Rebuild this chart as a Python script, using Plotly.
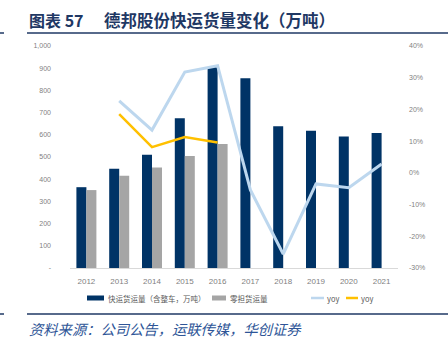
import plotly.graph_objects as go

years = ["2012", "2013", "2014", "2015", "2016", "2017", "2018", "2019", "2020", "2021"]
express_vol = [364, 447, 510, 675, 905, 855, 638, 618, 592, 608]
ltl_vol = [351, 416, 453, 505, 558, None, None, None, None, None]
yoy_express = [None, 22.7, 13.5, 31.8, 33.8, -5.4, -25.6, -3.5, -4.7, 2.8]
yoy_ltl = [None, 18.5, 8.1, 11.3, 9.6, None, None, None, None, None]

left_ticks = [0, 100, 200, 300, 400, 500, 600, 700, 800, 900, 1000]
left_labels = ["-", "100", "200", "300", "400", "500", "600", "700", "800", "900", "1,000"]
right_ticks = [-30, -20, -10, 0, 10, 20, 30, 40]
right_labels = ["-30%", "-20%", "-10%", "0%", "10%", "20%", "30%", "40%"]

legend_names = ["快运货运量（含整车，万吨）", "零担货运量", "yoy", "yoy"]

NAVY = "#003366"
GREY = "#A5A5A5"
LBLUE = "#BDD7EE"
YEL = "#FFC000"
TXT = "#7F7F7F"
TITLE = "#1F3864"

fig = go.Figure()
fig.add_bar(x=years, y=express_vol, name=legend_names[0], marker_color=NAVY, marker_line_width=0)
fig.add_bar(x=years, y=ltl_vol, name=legend_names[1], marker_color=GREY, marker_line_width=0)
fig.add_scatter(x=years, y=yoy_express, name=legend_names[2], yaxis="y2", mode="lines",
                line=dict(color=LBLUE, width=3))
fig.add_scatter(x=years, y=yoy_ltl, name=legend_names[3], yaxis="y2", mode="lines",
                line=dict(color=YEL, width=2.5))

L, R, T, B = 70, 50, 46, 82
W, H = 448, 350
pw = W - L - R
ph = H - T - B

def px(x):
    return (x - L) / pw

def py(y):
    return (H - B - y) / ph

fig.update_layout(
    width=W, height=H,
    margin=dict(l=L, r=R, t=T, b=B),
    paper_bgcolor="white", plot_bgcolor="white",
    barmode="group", bargap=0.39, bargroupgap=0,
    font=dict(family="Liberation Sans, Arial", size=8, color=TXT),
    xaxis=dict(showgrid=False, showline=True, linecolor="#D9D9D9", linewidth=1,
               ticks="", tickfont=dict(size=8, color=TXT), ticklabelstandoff=5),
    yaxis=dict(range=[0, 1000], tickvals=left_ticks, ticktext=left_labels,
               showgrid=False, zeroline=False, showline=False,
               tickfont=dict(size=7, color=TXT), ticklabelstandoff=18),
    yaxis2=dict(range=[-30, 40], tickvals=right_ticks, ticktext=right_labels,
                overlaying="y", side="right", showgrid=False, zeroline=False,
                showline=False, tickfont=dict(size=7, color=TXT), ticklabelstandoff=10),
    showlegend=False,
)

shapes = []
for y0 in (33, 314):
    shapes.append(dict(type="line", xref="paper", yref="paper",
                       x0=px(27), x1=px(448), y0=py(y0), y1=py(y0),
                       line=dict(color=TITLE, width=1.5)))
    shapes.append(dict(type="line", xref="paper", yref="paper",
                       x0=px(0), x1=px(4), y0=py(y0), y1=py(y0),
                       line=dict(color=TITLE, width=1.5)))

# manual legend
LY = 298
legend_items = [
    ("rect", NAVY, 87, 104, 106),
    ("rect", GREY, 212, 226, 228),
    ("line", LBLUE, 311, 324, 325),
    ("line", YEL, 346, 358, 359),
]
for (kind, col, x0, x1, tx), name in zip(legend_items, legend_names):
    if kind == "rect":
        shapes.append(dict(type="rect", xref="paper", yref="paper",
                           x0=px(x0), x1=px(x1), y0=py(LY + 2.5), y1=py(LY - 2.5),
                           fillcolor=col, line=dict(width=0)))
    else:
        shapes.append(dict(type="line", xref="paper", yref="paper",
                           x0=px(x0), x1=px(x1), y0=py(LY), y1=py(LY),
                           line=dict(color=col, width=2.5)))
    fig.add_annotation(text=name, xref="paper", yref="paper", x=px(tx), y=py(LY),
                       xanchor="left", yanchor="middle", showarrow=False,
                       font=dict(family="Noto Sans CJK SC, Liberation Sans", size=7.5, color="#595959"))
fig.update_layout(shapes=shapes)

fig.add_annotation(text="<b>图表 57</b>", xref="paper", yref="paper", x=px(27), y=py(20),
                   xanchor="left", yanchor="middle", showarrow=False,
                   font=dict(family="Noto Sans CJK SC", size=16, color=TITLE))
fig.add_annotation(text="<b>德邦股份快运货量变化（万吨）</b>", xref="paper", yref="paper",
                   x=px(102), y=py(20), xanchor="left", yanchor="middle", showarrow=False,
                   font=dict(family="Noto Sans CJK SC", size=16.5, color=TITLE))
fig.add_annotation(text="<i>资料来源：公司公告，运联传媒，华创证券</i>", xref="paper", yref="paper",
                   x=px(27), y=py(328), xanchor="left", yanchor="middle", showarrow=False,
                   font=dict(family="Noto Sans CJK SC", size=14.3, color="#2E5597"))

fig.write_html("out.html")
